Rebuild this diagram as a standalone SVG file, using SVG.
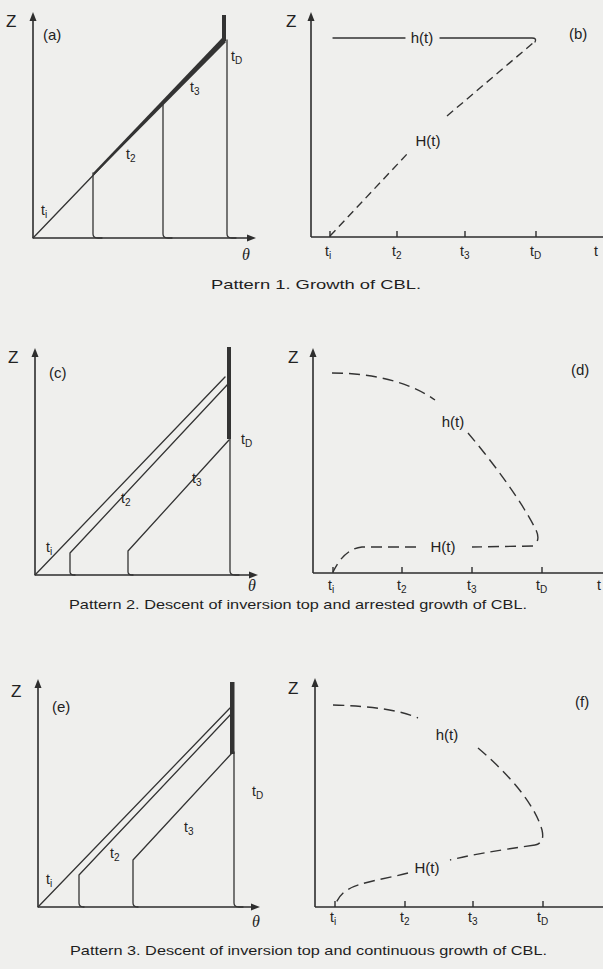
<svg xmlns="http://www.w3.org/2000/svg" width="603" height="969" viewBox="0 0 603 969">
<style>
.ln{fill:none;stroke:#333;stroke-width:1.3;stroke-linecap:round;stroke-linejoin:round}
.ax{fill:none;stroke:#2e2e2e;stroke-width:1.6}
.ds{fill:none;stroke:#333;stroke-width:1.4;stroke-dasharray:8 5}
.dl{fill:none;stroke:#333;stroke-width:1.4;stroke-dasharray:11 6}
.tk{fill:none;stroke:#2e2e2e;stroke-width:1.4}
.tx{font-family:"Liberation Sans",Arial,sans-serif;font-size:14px;fill:#222}
.z{font-family:"Liberation Sans",Arial,sans-serif;font-size:17px;fill:#222}
.lb{font-family:"Liberation Sans",Arial,sans-serif;font-size:15px;fill:#222}
.th{font-family:"Liberation Serif","Times New Roman",serif;font-style:italic;font-size:16px;fill:#222}
.cap{font-family:"Liberation Sans",Arial,sans-serif;font-size:13px;fill:#1e1e1e}
.sb{font-size:10px}
.ah{fill:#2e2e2e;stroke:none}
</style>
<defs>
<path id="up" class="ah" d="M0,0 L-3.5,9 L3.5,9 z"/>
<path id="rt" class="ah" d="M0,0 L-9,-3.5 L-9,3.5 z"/>
</defs>
<rect width="603" height="969" fill="#efefed"/>

<g id="panel-a">
<path class="ax" d="M33,238 V18 M33,238 H250"/>
<use href="#up" x="33" y="12"/>
<use href="#rt" x="256" y="238"/>
<text class="z" x="6" y="27">Z</text>
<text class="lb" x="43" y="40">(a)</text>
<path class="ln" d="M33,238 L223,40"/>
<polygon points="93,173 222,38 226,42 94,175" fill="#333"/>
<rect x="222" y="15" width="4" height="26" fill="#333"/>
<path class="ln" d="M93,173 V234 Q93,238 98,238 H102"/>
<path class="ln" d="M163,105 V234 Q163,238 168,238 H172"/>
<path class="ln" d="M227,40 V234 Q227,238 232,238 H236"/>
<text class="tx" x="41" y="215">t<tspan class="sb" dy="3">i</tspan></text>
<text class="tx" x="126" y="159">t<tspan class="sb" dy="3">2</tspan></text>
<text class="tx" x="190" y="92">t<tspan class="sb" dy="3">3</tspan></text>
<text class="tx" x="231" y="61">t<tspan class="sb" dy="3">D</tspan></text>
<text class="th" x="242" y="260">θ</text>
</g>

<g id="panel-b">
<path class="ax" d="M311,237 V18 M311,237 H603"/>
<use href="#up" x="311" y="12"/>
<text class="z" x="286" y="27">Z</text>
<text class="lb" x="569" y="39">(b)</text>
<path class="ln" d="M333,38 H405"/>
<path class="ln" d="M440,38 H532 Q537,38 535,42"/>
<text class="lb" x="422" y="43" text-anchor="middle">h(t)</text>
<path class="ds" d="M330,236 L408,153"/>
<path class="ds" d="M447,116 L533,43"/>
<text class="lb" x="428" y="146" text-anchor="middle">H(t)</text>
<path class="tk" d="M330,231 V237 M397,231 V237 M465,231 V237 M536,231 V237"/>
<text class="tx" x="325" y="256">t<tspan class="sb" dy="3">i</tspan></text>
<text class="tx" x="392" y="256">t<tspan class="sb" dy="3">2</tspan></text>
<text class="tx" x="460" y="256">t<tspan class="sb" dy="3">3</tspan></text>
<text class="tx" x="530" y="256">t<tspan class="sb" dy="3">D</tspan></text>
<text class="tx" x="594" y="256">t</text>
</g>

<text id="caption-1" class="cap" x="211" y="289" textLength="210" lengthAdjust="spacingAndGlyphs">Pattern 1.  Growth of CBL.</text>

<g id="panel-c">
<path class="ax" d="M35,575 V354 M35,575 H252"/>
<use href="#up" x="35" y="348"/>
<use href="#rt" x="258" y="575"/>
<text class="z" x="8" y="363">Z</text>
<text class="lb" x="49" y="378">(c)</text>
<path class="ln" d="M35,575 L225,377"/>
<path class="ln" d="M70,572 V553 L228,384 M70,572 Q70,575 75,575"/>
<path class="ln" d="M128,572 V551 L229,440 M128,572 Q128,575 133,575"/>
<rect x="227" y="347" width="4" height="92" fill="#333"/>
<path class="ln" d="M230,438 V571 Q230,575 235,575 H239"/>
<text class="tx" x="46" y="552">t<tspan class="sb" dy="3">i</tspan></text>
<text class="tx" x="121" y="503">t<tspan class="sb" dy="3">2</tspan></text>
<text class="tx" x="192" y="483">t<tspan class="sb" dy="3">3</tspan></text>
<text class="tx" x="241" y="444">t<tspan class="sb" dy="3">D</tspan></text>
<text class="th" x="248" y="591">θ</text>
</g>

<g id="panel-d">
<path class="ax" d="M313,573 V354 M313,573 H603"/>
<use href="#up" x="313" y="348"/>
<text class="z" x="288" y="363">Z</text>
<text class="lb" x="571" y="375">(d)</text>
<path class="dl" d="M332,373 C372,373 410,382 435,400"/>
<path class="dl" d="M468,433 C495,465 522,502 536,530 Q541,541 533,545"/>
<text class="lb" x="453" y="427" text-anchor="middle">h(t)</text>
<path class="dl" d="M533,546 L472,547"/>
<text class="lb" x="443" y="552" text-anchor="middle">H(t)</text>
<path class="dl" d="M416,547 L362,547 Q344,549 333,572"/>
<path class="tk" d="M333,567 V573 M402,567 V573 M472,567 V573 M542,567 V573"/>
<text class="tx" x="328" y="590">t<tspan class="sb" dy="3">i</tspan></text>
<text class="tx" x="397" y="590">t<tspan class="sb" dy="3">2</tspan></text>
<text class="tx" x="467" y="590">t<tspan class="sb" dy="3">3</tspan></text>
<text class="tx" x="536" y="590">t<tspan class="sb" dy="3">D</tspan></text>
<text class="tx" x="597" y="590">t</text>
</g>

<text id="caption-2" class="cap" x="69" y="609" textLength="458" lengthAdjust="spacingAndGlyphs">Pattern 2.   Descent of inversion top and arrested growth of CBL.</text>

<g id="panel-e">
<path class="ax" d="M38,907 V685 M38,907 H254"/>
<use href="#up" x="38" y="679"/>
<use href="#rt" x="260" y="907"/>
<text class="z" x="11" y="697">Z</text>
<text class="lb" x="52" y="712">(e)</text>
<path class="ln" d="M38,907 L230,708"/>
<path class="ln" d="M79,903 V875 L231,714 M79,903 Q79,907 84,907"/>
<path class="ln" d="M133,903 V860 L232,753 M133,903 Q133,907 138,907"/>
<rect x="230" y="682" width="4.5" height="72" fill="#333"/>
<path class="ln" d="M234,752 V903 Q234,907 239,907 H243"/>
<text class="tx" x="46" y="884">t<tspan class="sb" dy="3">i</tspan></text>
<text class="tx" x="110" y="858">t<tspan class="sb" dy="3">2</tspan></text>
<text class="tx" x="184" y="832">t<tspan class="sb" dy="3">3</tspan></text>
<text class="tx" x="252" y="796">t<tspan class="sb" dy="3">D</tspan></text>
<text class="th" x="252" y="927">θ</text>
</g>

<g id="panel-f">
<path class="ax" d="M315,907 V684 M315,907 H603"/>
<use href="#up" x="315" y="678"/>
<text class="z" x="288" y="694">Z</text>
<text class="lb" x="575" y="707">(f)</text>
<path class="dl" d="M333,705 C370,706 400,710 418,718"/>
<text class="lb" x="447" y="740" text-anchor="middle">h(t)</text>
<path class="dl" d="M478,748 C510,775 535,805 542,830 Q545,843 535,845"/>
<path class="dl" d="M535,845 C500,850 470,855 450,860"/>
<text class="lb" x="427" y="873" text-anchor="middle">H(t)</text>
<path class="dl" d="M408,873 C385,879 360,882 347,890 Q338,896 335,906"/>
<path class="tk" d="M335,901 V907 M405,901 V907 M473,901 V907 M543,901 V907"/>
<text class="tx" x="330" y="922">t<tspan class="sb" dy="3">i</tspan></text>
<text class="tx" x="400" y="922">t<tspan class="sb" dy="3">2</tspan></text>
<text class="tx" x="468" y="922">t<tspan class="sb" dy="3">3</tspan></text>
<text class="tx" x="537" y="922">t<tspan class="sb" dy="3">D</tspan></text>
</g>

<text id="caption-3" class="cap" x="70" y="955" textLength="477" lengthAdjust="spacingAndGlyphs">Pattern 3.   Descent of inversion top and continuous growth of CBL.</text>
</svg>
